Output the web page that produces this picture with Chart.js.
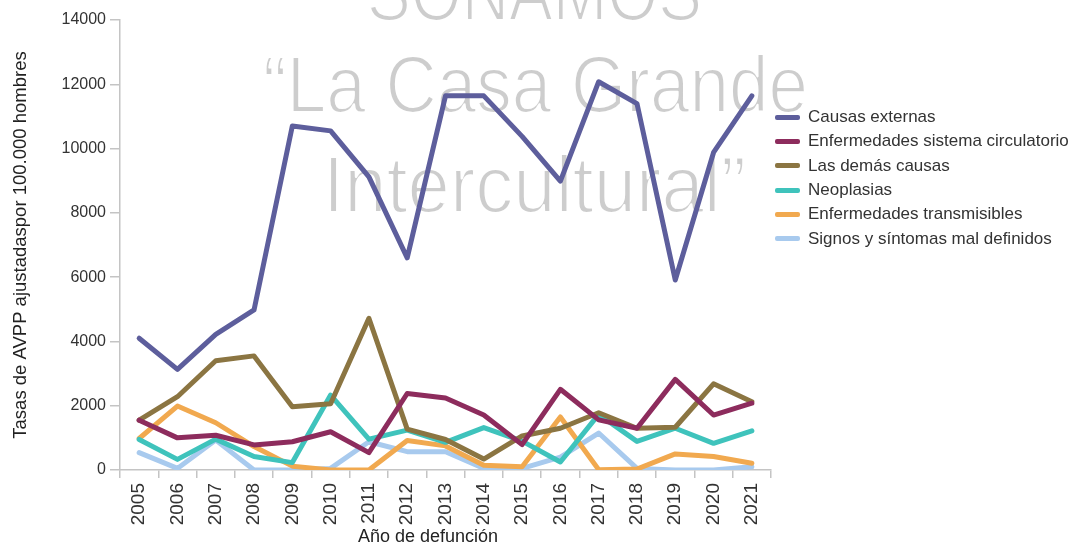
<!DOCTYPE html>
<html>
<head>
<meta charset="utf-8">
<script src="https://cdn.jsdelivr.net/npm/chart.js@4.4.1/dist/chart.umd.min.js"></script>
<style>
  html, body { margin: 0; padding: 0; background: #fff; }
  #wrap { position: relative; width: 1079px; height: 550px; overflow: hidden; }
  #c { position: absolute; left: 0; top: 0; }
  #legend { position: absolute; left: 775px; top: 105px; font-family: "Liberation Sans", Arial, sans-serif; font-size: 17px; color: #333; }
  .row { height: 24.3px; display: flex; align-items: center; white-space: nowrap; }
  .sw { width: 25px; height: 5px; border-radius: 2px; margin-right: 8px; flex: none; }
  #xtitle { position: absolute; top: 526px; left: 428px; transform: translateX(-50%); font-family: "Liberation Sans", Arial, sans-serif; font-size: 18px; color: #222; white-space: nowrap; }
</style>
</head>
<body>
<div id="wrap">
  <canvas id="c" width="1079" height="550"></canvas>
  <div id="legend"></div>
  <div id="xtitle">Año de defunción</div>
</div>
<script>
const years = ["2005","2006","2007","2008","2009","2010","2011","2012","2013","2014","2015","2016","2017","2018","2019","2020","2021"];
const yTicks = [0, 2000, 4000, 6000, 8000, 10000, 12000, 14000];
const seriesNames = ["Causas externas","Enfermedades sistema circulatorio","Las demás causas","Neoplasias","Enfermedades transmisibles","Signos y síntomas mal definidos"];
const causasExternas = [4100, 3130, 4220, 4980, 10700, 10550, 9120, 6600, 11640, 11640, 10380, 8990, 12080, 11400, 5910, 9880, 11640];
const circulatorio   = [1550, 1000, 1080, 780, 880, 1190, 540, 2380, 2240, 1710, 790, 2510, 1560, 1300, 2820, 1710, 2080];
const demasCausas    = [1550, 2280, 3400, 3550, 1970, 2060, 4720, 1270, 950, 340, 1060, 1300, 1780, 1300, 1330, 2680, 2120];
const neoplasias     = [950, 330, 960, 420, 230, 2330, 960, 1240, 860, 1320, 900, 250, 1730, 890, 1300, 830, 1220];
const transmisibles  = [980, 1990, 1470, 730, 120, 0, 0, 920, 750, 150, 100, 1650, 10, 30, 500, 420, 210];
const signos         = [540, 50, 930, 0, 0, 50, 880, 570, 570, 50, 50, 400, 1150, 50, 0, 0, 100];

const colors = ["#5d5e9c", "#8d2c5d", "#8b7542", "#3fc3bc", "#f1a94f", "#a8caee"];
const seriesData = [causasExternas, circulatorio, demasCausas, neoplasias, transmisibles, signos];

const datasets = seriesNames.map((name, i) => ({
  label: name,
  data: seriesData[i],
  borderColor: colors[i],
  backgroundColor: colors[i],
  borderWidth: 5,
  pointRadius: 0,
  tension: 0,
  fill: false,
  borderJoinStyle: 'round',
  borderCapStyle: 'round'
}));

const watermark = {
  id: 'watermark',
  beforeDatasetsDraw(chart) {
    const ctx = chart.ctx;
    const items = [
      { t: "SONAMOS", l: 367, r: 702, b: 20 },
      { t: "\u201CLa Casa Grande", l: 263, r: 808, b: 112 },
      { t: "Intercultural\u201D", l: 323, r: 746, b: 212 }
    ];
    ctx.save();
    ctx.font = '80px "Liberation Sans", Arial, sans-serif';
    ctx.textBaseline = 'alphabetic';
    items.forEach(it => {
      const w = ctx.measureText(it.t).width;
      const s = (it.r - it.l) / w;
      ctx.save();
      ctx.translate(it.l, it.b);
      ctx.scale(s, 1);
      ctx.fillStyle = "#cdcdcd";
      ctx.fillText(it.t, 0, 0);
      ctx.strokeStyle = "#ffffff";
      ctx.lineWidth = 2.2;
      ctx.lineJoin = 'round';
      ctx.strokeText(it.t, 0, 0);
      ctx.restore();
    });
    ctx.restore();
  }
};

const axisColor = "#c4c4c4";
new Chart(document.getElementById('c'), {
  type: 'line',
  data: { labels: years, datasets },
  plugins: [watermark],
  options: {
    responsive: false,
    animation: false,
    layout: { padding: { left: 0, right: 308, top: 20, bottom: 0 } },
    plugins: { legend: { display: false }, tooltip: { enabled: false } },
    scales: {
      x: {
        type: 'category',
        offset: true,
        grid: { offset: true, drawOnChartArea: false, drawTicks: true, tickLength: 8, color: axisColor, lineWidth: 1.5 },
        border: { display: true, color: axisColor, width: 1.5 },
        ticks: { minRotation: 90, maxRotation: 90, padding: 5, color: "#333", font: { family: '"Liberation Sans", Arial, sans-serif', size: 19 } },
        afterFit(scale) { scale.height = 80; }
      },
      y: {
        min: 0, max: 14000,
        afterBuildTicks(scale) { scale.ticks = yTicks.map(v => ({ value: v })); },
        grid: { drawOnChartArea: false, drawTicks: true, tickLength: 10, color: axisColor, lineWidth: 1.5 },
        border: { display: true, color: axisColor, width: 1.5 },
        ticks: { padding: 4, color: "#333", callback: v => String(v), font: { family: '"Liberation Sans", Arial, sans-serif', size: 16 } },
        title: { display: true, text: "Tasas de AVPP ajustadaspor 100.000 hombres", color: "#222", padding: { top: 10, bottom: 0 }, font: { family: '"Liberation Sans", Arial, sans-serif', size: 18.5 } },
        afterFit(scale) { scale.width = 120; }
      }
    }
  }
});

const legend = document.getElementById('legend');
seriesNames.forEach((name, i) => {
  const row = document.createElement('div');
  row.className = 'row';
  const sw = document.createElement('span');
  sw.className = 'sw';
  sw.style.background = colors[i];
  const tx = document.createElement('span');
  tx.textContent = name;
  row.appendChild(sw);
  row.appendChild(tx);
  legend.appendChild(row);
});
</script>
</body>
</html>
